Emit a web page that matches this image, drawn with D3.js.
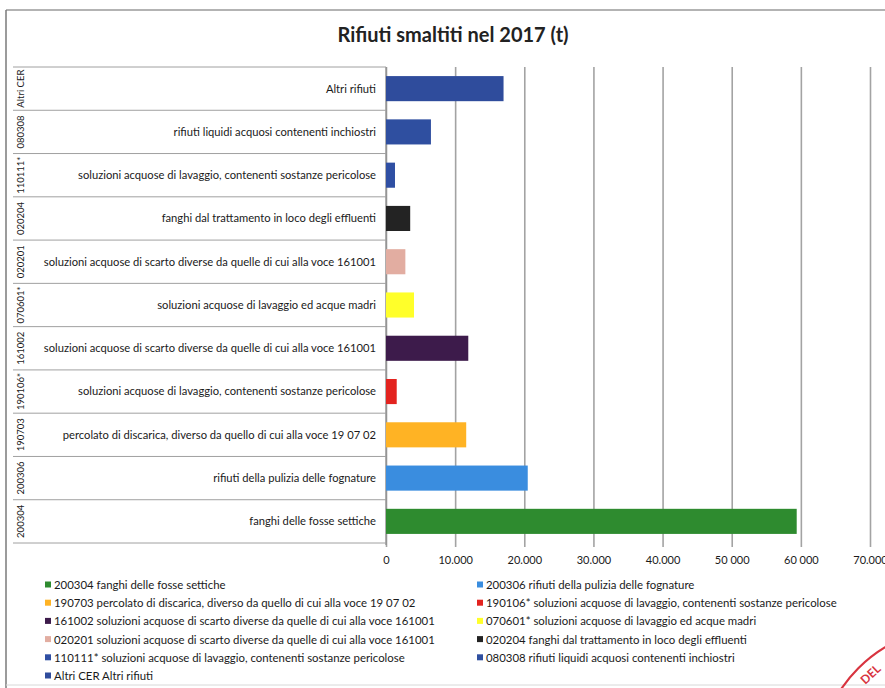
<!DOCTYPE html>
<html>
<head>
<meta charset="utf-8">
<script src="https://cdn.jsdelivr.net/npm/d3@7"></script>
<style>
  html, body { margin: 0; padding: 0; background: #fff; }
  svg { display: block; }
  text { font-family: Lato, "Open Sans", sans-serif; fill: #1a1a1a; }
</style>
</head>
<body>
<script>
// Waste codes (CER), bottom row first
const codes = ["200304", "200306", "190703", "190106*", "161002", "070601*", "020201", "020204", "110111*", "080308", "Altri CER"];
const descriptions = [
  "fanghi delle fosse settiche",
  "rifiuti della pulizia delle fognature",
  "percolato di discarica, diverso da quello di cui alla voce 19 07 02",
  "soluzioni acquose di lavaggio, contenenti sostanze pericolose",
  "soluzioni acquose di scarto diverse da quelle di cui alla voce 161001",
  "soluzioni acquose di lavaggio ed acque madri",
  "soluzioni acquose di scarto diverse da quelle di cui alla voce 161001",
  "fanghi dal trattamento in loco degli effluenti",
  "soluzioni acquose di lavaggio, contenenti sostanze pericolose",
  "rifiuti liquidi acquosi contenenti inchiostri",
  "Altri rifiuti"
];
// Tonnes disposed in 2017
const tonnes = [59400, 20500, 11600, 1550, 11900, 4050, 2800, 3500, 1300, 6500, 17000];
const colors = ["#2e8b2f", "#3a8ddf", "#ffb324", "#e3231f", "#3d1b4b", "#ffff2a", "#e2ada1", "#232323", "#2f4fa3", "#2f4fa0", "#2f4c9c"];
const tickValues = [0, 10000, 20000, 30000, 40000, 50000, 60000, 70000];
const tickLabels = ["0", "10.000", "20.000", "30.000", "40.000", "50 000", "60 000", "70.000"];
const title = "Rifiuti smaltiti nel 2017 (t)";

const W = 885, H = 688;
const svg = d3.select("body").append("svg").attr("width", W).attr("height", H);

// outer frame of the chart
svg.append("line").attr("x1", 6).attr("x2", W).attr("y1", 10).attr("y2", 10)
  .attr("stroke", "#9a9a9a").attr("stroke-width", 1.5);
svg.append("line").attr("x1", 6).attr("x2", 6).attr("y1", 10).attr("y2", H)
  .attr("stroke", "#7a7a7a").attr("stroke-width", 1.5);
svg.append("line").attr("x1", 6).attr("x2", W).attr("y1", 685).attr("y2", 685)
  .attr("stroke", "#d8d8d8").attr("stroke-width", 1);

svg.append("text").attr("x", 453).attr("y", 42).attr("text-anchor", "middle")
  .style("font-size", "20px").style("font-weight", "bold").style("fill", "#222")
  .text(title);

const plotTop = 67, plotBottom = 543, x0 = 386, x1 = 870;
const x = d3.scaleLinear().domain([0, 70000]).range([x0, x1]);
const order = codes.map((c, i) => i).reverse(); // top row is the last code
const y = d3.scaleBand().domain(order).range([plotTop, plotBottom]).padding(0);
const barH = y.bandwidth() * 0.58;

// vertical gridlines + tick labels
const axis = d3.axisBottom(x).tickValues(tickValues)
  .tickFormat((d, i) => tickLabels[i]).tickSize(-(plotBottom + 2 - plotTop)).tickPadding(11);
const gx = svg.append("g").attr("transform", `translate(0,${plotBottom + 2})`).call(axis);
gx.select(".domain").remove();
gx.selectAll(".tick line").attr("stroke", "#a3a3a3").attr("stroke-width", 1.6).attr("y1", 2);
gx.selectAll(".tick text").style("font-size", "11px").style("fill", "#1a1a1a")
  .style("font-family", "Lato, sans-serif");

// category table on the left
const table = svg.append("g");
table.append("line").attr("x1", x0).attr("x2", x0).attr("y1", plotTop).attr("y2", plotBottom + 2)
  .attr("stroke", "#8a8a8a").attr("stroke-width", 1.2);
const edges = order.map(i => y(i)).concat([plotBottom]);
table.selectAll("line.div").data(edges).join("line").attr("class", "div")
  .attr("x1", 13).attr("x2", x0).attr("y1", d => d).attr("y2", d => d)
  .attr("stroke", "#a0a0a0").attr("stroke-width", 1);
table.selectAll("text.desc").data(order).join("text").attr("class", "desc")
  .attr("x", 376).attr("y", i => y(i) + y.bandwidth() / 2).attr("dy", "0.35em")
  .attr("text-anchor", "end").style("font-size", "11.2px")
  .text(i => descriptions[i]);
table.selectAll("text.code").data(order).join("text").attr("class", "code")
  .attr("transform", i => `translate(24,${y(i) + y.bandwidth() / 2}) rotate(-90)`)
  .attr("text-anchor", "middle").style("font-size", "9.5px")
  .text(i => codes[i]);

// bars
svg.append("g").selectAll("rect").data(order).join("rect")
  .attr("x", x(0)).attr("y", i => y(i) + (y.bandwidth() - barH) / 2)
  .attr("width", i => x(tonnes[i]) - x(0)).attr("height", barH)
  .attr("fill", i => colors[i]);

// legend, two columns
const legend = svg.append("g");
const leg = codes.map((c, i) => ({ i, col: i % 2, row: Math.floor(i / 2) }));
const lg = legend.selectAll("g").data(leg).join("g")
  .attr("transform", d => `translate(${d.col ? 477 : 45},${585 + d.row * 18.2})`);
lg.append("rect").attr("x", 0).attr("y", -3.5).attr("width", 6).attr("height", 6)
  .attr("fill", d => colors[d.i]);
lg.append("text").attr("x", 9).attr("dy", "0.35em").style("font-size", "11.4px")
  .text(d => codes[d.i] + " " + descriptions[d.i]);

// stamp in the corner
const stamp = svg.append("g").attr("transform", "translate(958,768)");
stamp.append("circle").attr("r", 141).attr("fill", "none").attr("stroke", "#d8343f").attr("stroke-width", 2.2);
stamp.append("text").attr("transform", "rotate(-43) translate(0,-124)")
  .attr("text-anchor", "middle").style("font-size", "12px").style("fill", "#d8343f")
  .style("font-weight", "bold").text("DEL");
</script>
</body>
</html>
